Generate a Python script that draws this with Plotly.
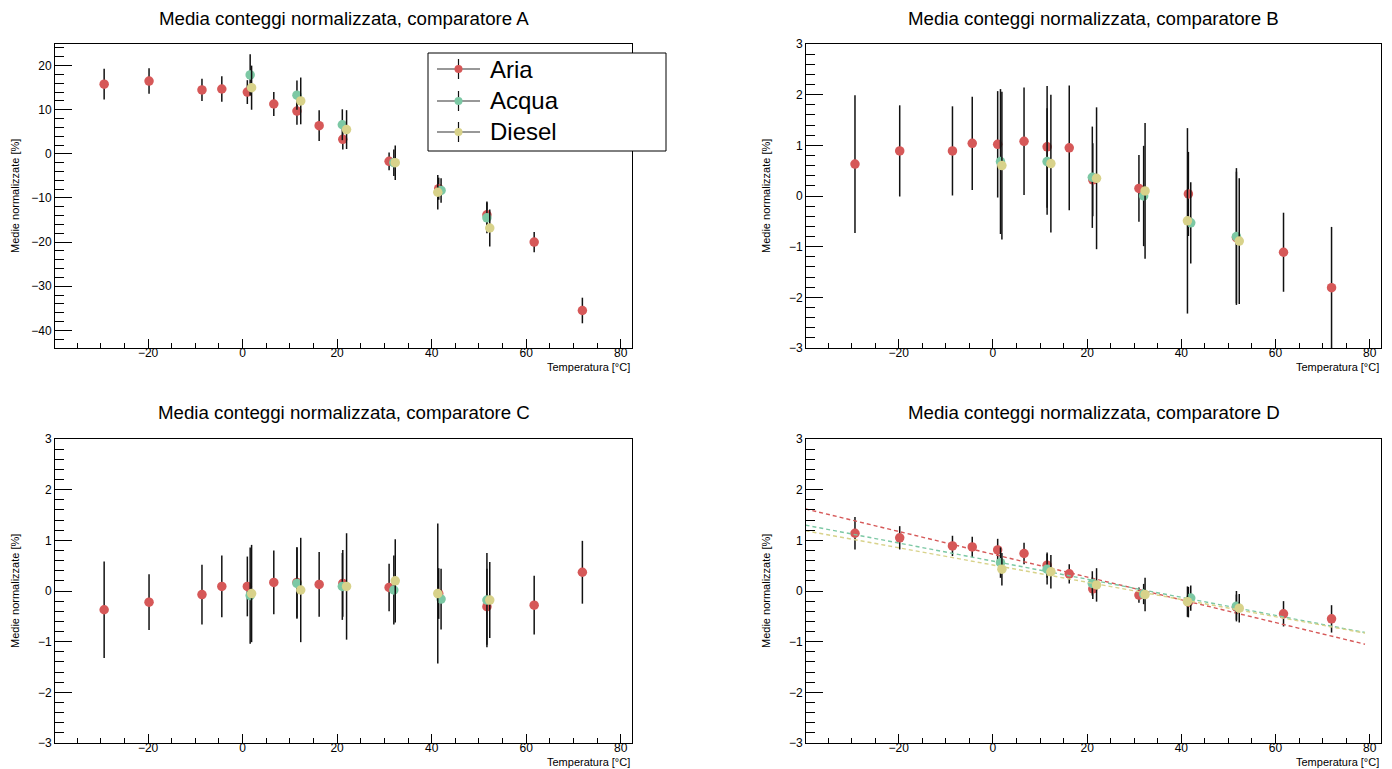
import plotly.graph_objects as go

# ---------------- data ----------------
temp_aria = [-29.3, -19.8, -8.6, -4.4, 1.0, 6.6, 11.5, 16.2, 21.2, 31.0, 41.5, 51.7, 61.7, 71.9]
temp_acqua = [1.6, 11.5, 21.1, 32.0, 42.0, 51.7]
temp_diesel = [1.9, 12.3, 22.0, 32.3, 41.3, 52.3]

# comparatore A
aria_A = [15.8, 16.5, 14.5, 14.7, 14.0, 11.3, 9.7, 6.4, 3.3, -1.7, -7.9, -13.8, -20.0, -35.5]
aria_A_err = [3.5, 2.9, 2.5, 2.9, 2.7, 2.7, 3.1, 3.5, 2.3, 2.0, 2.5, 3.0, 2.3, 2.9]
acqua_A = [17.9, 13.3, 6.6, -2.0, -8.3, -14.5]
acqua_A_err = [4.7, 3.3, 3.5, 3.0, 2.8, 3.5]
diesel_A = [15.0, 12.0, 5.5, -2.0, -8.7, -16.8]
diesel_A_err = [5.0, 5.3, 4.4, 3.9, 3.9, 4.2]

# comparatore B
aria_B = [0.63, 0.89, 0.89, 1.04, 1.02, 1.08, 0.97, 0.95, 0.32, 0.15, 0.04, -0.82, -1.11, -1.81]
aria_B_err = [1.36, 0.90, 0.88, 0.92, 1.05, 1.06, 1.20, 1.23, 0.72, 0.66, 0.83, 1.30, 0.78, 1.20]
acqua_B = [0.68, 0.68, 0.37, 0.0, -0.53, -0.80]
acqua_B_err = [1.43, 1.05, 1.00, 0.99, 0.80, 1.35]
diesel_B = [0.60, 0.64, 0.35, 0.10, -0.49, -0.89]
diesel_B_err = [1.46, 1.36, 1.40, 1.34, 1.83, 1.24]

# comparatore C
aria_C = [-0.37, -0.22, -0.07, 0.09, 0.09, 0.17, 0.17, 0.13, 0.15, 0.07, -0.05, -0.31, -0.28, 0.37]
aria_C_err = [0.95, 0.55, 0.59, 0.61, 0.59, 0.63, 0.70, 0.64, 0.66, 0.47, 0.50, 0.75, 0.58, 0.62]
acqua_C = [-0.09, 0.15, 0.09, 0.02, -0.16, -0.18]
acqua_C_err = [0.95, 0.70, 0.66, 0.68, 0.60, 0.93]
diesel_C = [-0.05, 0.02, 0.09, 0.20, -0.05, -0.18]
diesel_C_err = [0.96, 1.03, 1.05, 0.82, 1.38, 0.75]

# comparatore D
aria_D = [1.14, 1.05, 0.89, 0.87, 0.81, 0.74, 0.51, 0.34, 0.04, -0.08, -0.22, -0.32, -0.45, -0.55]
aria_D_err = [0.32, 0.23, 0.20, 0.20, 0.22, 0.21, 0.25, 0.19, 0.20, 0.15, 0.30, 0.25, 0.25, 0.27]
acqua_D = [0.56, 0.43, 0.15, -0.06, -0.14, -0.30]
acqua_D_err = [0.30, 0.30, 0.24, 0.20, 0.25, 0.30]
diesel_D = [0.43, 0.38, 0.12, -0.07, -0.21, -0.34]
diesel_D_err = [0.32, 0.33, 0.33, 0.33, 0.30, 0.28]

# linear fits shown in panel D (end points)
fit_temp = [-39.8, 79.0]
fit_aria_D = [1.62, -1.05]
fit_acqua_D = [1.30, -0.82]
fit_diesel_D = [1.19, -0.83]

series_names = ["Aria", "Acqua", "Diesel"]
panel_letters = ["A", "B", "C", "D"]

# ---------------- style ----------------
W, H = 1392, 769
FONT = "Liberation Sans, Arial, Helvetica, sans-serif"
COLORS = {"Aria": "#d65858", "Acqua": "#7cc8a4", "Diesel": "#d8d28a"}


def px(x):
    return x / W


def py(y):
    return 1 - y / H


# frame positions in pixels (left, right, top, bottom)
frames = {
    "A": (55, 632, 44, 348),
    "B": (806, 1381, 44, 348),
    "C": (55, 632, 439, 743),
    "D": (806, 1381, 439, 743),
}

fig = go.Figure()

data = {
    "A": [(temp_aria, aria_A, aria_A_err), (temp_acqua, acqua_A, acqua_A_err), (temp_diesel, diesel_A, diesel_A_err)],
    "B": [(temp_aria, aria_B, aria_B_err), (temp_acqua, acqua_B, acqua_B_err), (temp_diesel, diesel_B, diesel_B_err)],
    "C": [(temp_aria, aria_C, aria_C_err), (temp_acqua, acqua_C, acqua_C_err), (temp_diesel, diesel_C, diesel_C_err)],
    "D": [(temp_aria, aria_D, aria_D_err), (temp_acqua, acqua_D, acqua_D_err), (temp_diesel, diesel_D, diesel_D_err)],
}
fits_D = [fit_aria_D, fit_acqua_D, fit_diesel_D]

layout = dict(
    width=W, height=H,
    margin=dict(l=0, r=0, t=0, b=0, pad=0, autoexpand=False),
    paper_bgcolor="white", plot_bgcolor="white",
    showlegend=False,
    font=dict(family=FONT, color="black", size=12),
)

annotations = []
shapes = []

for i, letter in enumerate(panel_letters):
    n = "" if i == 0 else str(i + 1)
    xa, ya = "x" + n, "y" + n
    l, r, t, b = frames[letter]
    for k, (T, v, e) in enumerate(data[letter]):
        name = series_names[k]
        fig.add_trace(go.Scatter(
            x=T, y=v, mode="markers", name=name,
            marker=dict(color=COLORS[name], size=9.5, line=dict(width=0)),
            error_y=dict(type="data", array=e, visible=True, width=0, thickness=1.5, color="#111111"),
            xaxis=xa, yaxis=ya, hoverinfo="skip",
        ))
        if letter == "D":
            fig.add_trace(go.Scatter(
                x=fit_temp, y=fits_D[k], mode="lines",
                line=dict(color=COLORS[name], width=1.4, dash="4px,3px"),
                xaxis=xa, yaxis=ya, hoverinfo="skip",
            ))
    if letter == "A":
        yrange, ydt, ymin = [-44.0, 24.9], 10, 2
    else:
        yrange, ydt, ymin = [-3, 3], 1, 0.2
    layout["xaxis" + n] = dict(
        domain=[px(l), px(r)], anchor=ya, range=[-39.7, 82.4], automargin=False,
        showline=True, mirror=True, linecolor="black", linewidth=1,
        ticks="inside", ticklen=9, tickwidth=1, tickcolor="black",
        tick0=0, dtick=20, showgrid=False, zeroline=False,
        ticklabelstandoff=-6,
        tickfont=dict(size=12, family=FONT, color="black"),
        minor=dict(ticks="inside", ticklen=5, tickwidth=1, tickcolor="black", dtick=5, tick0=0, showgrid=False),
    )
    layout["yaxis" + n] = dict(
        domain=[py(b), py(t)], anchor=xa, range=yrange, automargin=False,
        showline=True, mirror=True, linecolor="black", linewidth=1,
        ticks="inside", ticklen=17, tickwidth=1, tickcolor="black",
        tick0=0, dtick=ydt, showgrid=False, zeroline=False,
        tickfont=dict(size=12, family=FONT, color="black"),
        minor=dict(ticks="inside", ticklen=9, tickwidth=1, tickcolor="black", dtick=ymin, tick0=0, showgrid=False),
    )
    # panel title
    title_y = 18 if letter in ("A", "B") else 412
    annotations.append(dict(
        text="Media conteggi normalizzata, comparatore " + letter,
        x=px((l + r) / 2), y=py(title_y), xref="paper", yref="paper",
        xanchor="center", yanchor="middle", showarrow=False,
        font=dict(size=18.7, family=FONT, color="black"),
    ))
    # x axis title
    annotations.append(dict(
        text="Temperatura [°C]", x=px(r), y=py(b + 19), xref="paper", yref="paper",
        xanchor="right", yanchor="middle", showarrow=False,
        font=dict(size=11, family=FONT, color="black"),
    ))
    # y axis title
    annotations.append(dict(
        text="Medie normalizzate [%]", x=px(l - 40), y=py((t + b) / 2), xref="paper", yref="paper",
        xanchor="center", yanchor="middle", showarrow=False, textangle=-90,
        font=dict(size=11, family=FONT, color="black"),
    ))

# ---------------- legend (panel A) ----------------
leg_l, leg_r, leg_t, leg_b = 428, 666, 53, 151
shapes.append(dict(type="rect", xref="paper", yref="paper",
                   x0=px(leg_l), x1=px(leg_r), y0=py(leg_b), y1=py(leg_t),
                   line=dict(color="black", width=1), fillcolor="white", layer="above"))
row_y = [69, 101, 132]
for name, yy in zip(series_names, row_y):
    shapes.append(dict(type="line", xref="paper", yref="paper",
                       x0=px(437), x1=px(480), y0=py(yy), y1=py(yy),
                       line=dict(color="#333333", width=1.2), layer="above"))
    shapes.append(dict(type="line", xref="paper", yref="paper",
                       x0=px(458.5), x1=px(458.5), y0=py(yy - 10), y1=py(yy + 10),
                       line=dict(color="#111111", width=1.2), layer="above"))
    shapes.append(dict(type="circle", xref="paper", yref="paper",
                       x0=px(454.5), x1=px(462.5), y0=py(yy + 4), y1=py(yy - 4),
                       line=dict(width=0), fillcolor=COLORS[name], layer="above"))
    annotations.append(dict(
        text=name, x=px(488), y=py(yy), xref="paper", yref="paper",
        xanchor="left", yanchor="middle", showarrow=False,
        font=dict(size=24, family=FONT, color="black"),
    ))

layout["annotations"] = annotations
layout["shapes"] = shapes
fig.update_layout(**layout)

fig.write_html("out.html")
